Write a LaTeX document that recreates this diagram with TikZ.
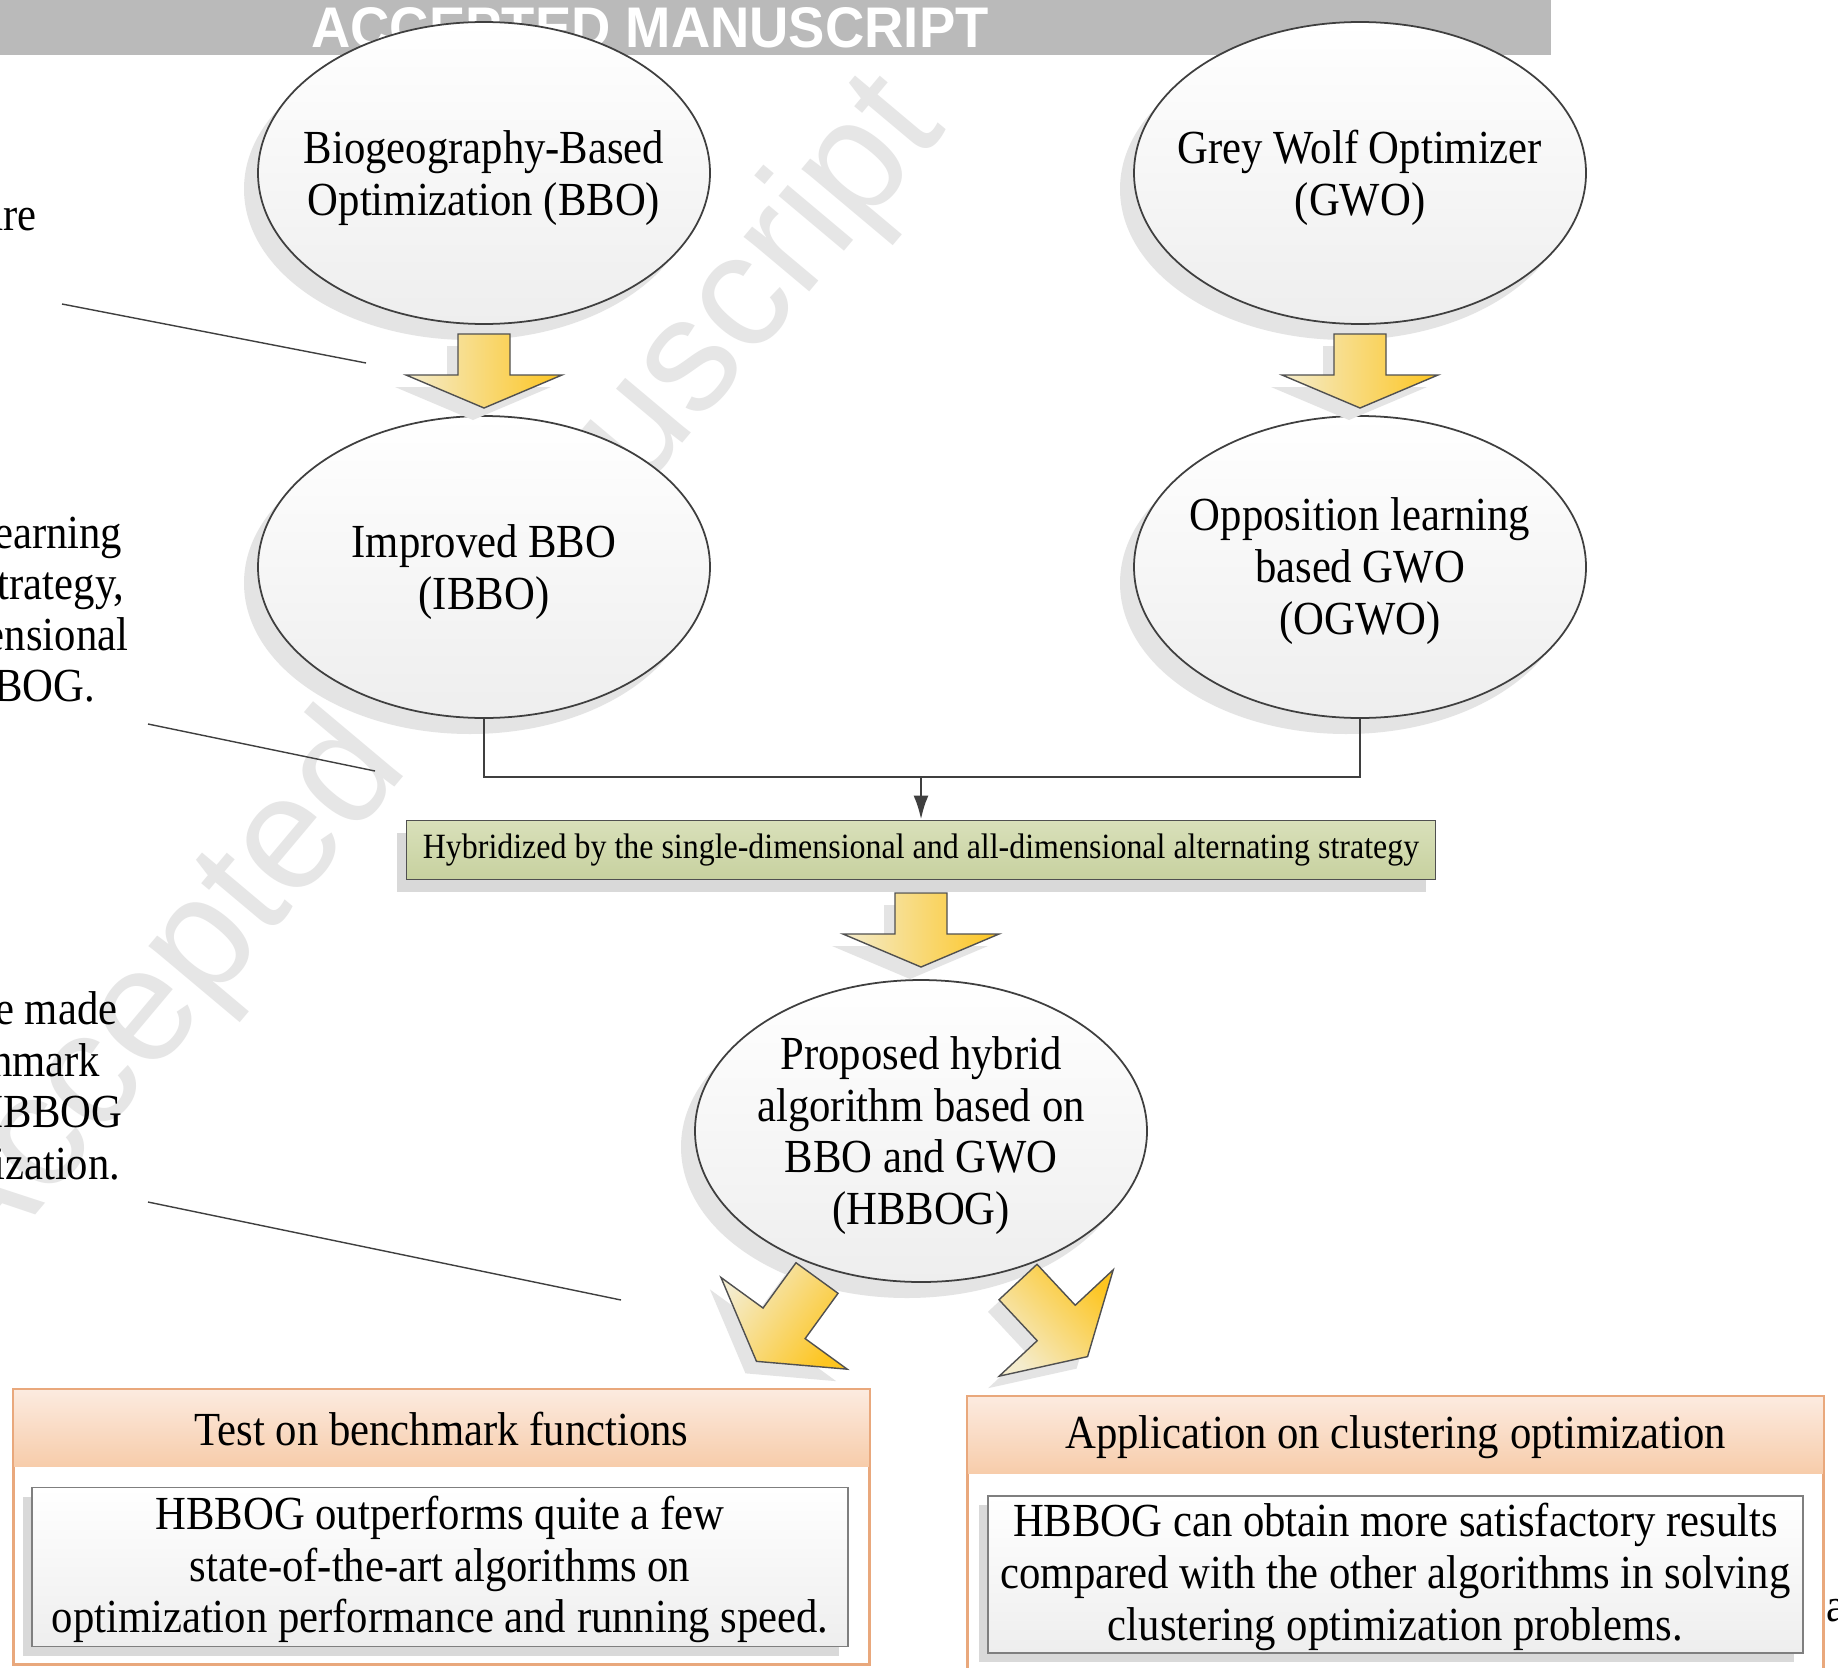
\documentclass[tikz,border=0pt]{standalone}
\usepackage{fontspec}
\setmainfont{Liberation Serif}[FakeStretch=0.9]
\newfontfamily\markfont{Liberation Sans}
\newfontfamily\bannerfont{Liberation Sans}[FakeStretch=0.95]
\usetikzlibrary{shapes.geometric,shadows,arrows.meta}

\definecolor{bannergray}{HTML}{BABABA}
\definecolor{markgray}{HTML}{E6E6E6}
\definecolor{shadowgray}{HTML}{E4E4E4}
\definecolor{edgegray}{HTML}{505050}
\definecolor{ovaledge}{HTML}{3F3F3F}
\definecolor{ovalbot}{HTML}{EEEEEE}
\definecolor{creamy}{HTML}{F4ECCD}
\definecolor{golden}{HTML}{FDC520}
\definecolor{olivetop}{HTML}{D9E0BA}
\definecolor{olivebot}{HTML}{C7D19F}
\definecolor{peachtop}{HTML}{FCEBE0}
\definecolor{peachbot}{HTML}{F7CCAA}
\definecolor{peachedge}{HTML}{E9A87C}
\definecolor{boxedge}{HTML}{7F7F7F}

\newcommand\arrowpath[2]{(-26,0) -- (-26,#1) -- (-78,#1) -- (0,#1+#2) -- (78,#1) -- (26,#1) -- (26,0) -- cycle}

\tikzset{
  oval/.style={ellipse, draw=ovaledge, line width=0.5pt, top color=white, bottom color=ovalbot,
    minimum width=45.2mm, minimum height=30.2mm, inner sep=0pt,
    general shadow={fill=shadowgray, shadow xshift=-1.4mm, shadow yshift=-1.6mm}},
  ovaltext/.style={align=center, inner sep=0pt, font=\fontsize{13.5}{14.7}\selectfont},
  stratbox/.style={rectangle, draw=edgegray, line width=0.5pt, top color=olivetop, bottom color=olivebot,
    minimum width=102.9mm, minimum height=5.9mm, inner sep=0pt, font=\fontsize{10.1}{12}\selectfont,
    general shadow={fill=black!15, shadow xshift=-1mm, shadow yshift=-1.2mm}},
  panel/.style={rectangle, draw=peachedge, line width=0.6pt, minimum width=85.5mm, inner sep=0pt},
  paneltitle/.style={font=\fontsize{13.5}{14.7}\selectfont, inner sep=0pt},
  resultbox/.style={rectangle, draw=boxedge, line width=0.5pt, top color=white, bottom color=ovalbot,
    minimum width=81.6mm, minimum height=15.9mm, inner sep=0pt,
    general shadow={fill=black!15, shadow xshift=-0.9mm, shadow yshift=-0.9mm}},
  conn/.style={draw=ovaledge, line width=0.8pt},
  arrowedge/.style={draw=edgegray, line width=0.4pt, line join=miter},
  callout/.style={draw=ovaledge, line width=0.4pt},
  fragment/.style={font=\fontsize{13.5}{14.7}\selectfont, inner sep=0pt, text height=9.5pt, text depth=3.5pt},
  watermark/.style={text=markgray, font=\markfont\fontsize{46}{46}\selectfont, inner sep=0pt},
  bannertext/.style={text=white, font=\bannerfont\bfseries\fontsize{16.3}{16.3}\selectfont, inner sep=0pt}
}

\begin{document}
\begin{tikzpicture}[x=0.1mm, y=-0.1mm]
  \clip (0,0) rectangle (1838,1667);
  \fill[white] (0,0) rectangle (1838,1667);

  % banner and watermark
  \fill[bannergray] (0,0) rectangle (1551,55);
  \node[bannertext, anchor=base] (banner) at (650,48) {ACCEPTED MANUSCRIPT};
  \node[watermark, rotate=50] (mark) at (430,680) {Accepted Manuscript};

  % cut text on the left
  \foreach \txt/\xr/\yy in {are/37/220, earning/123/538, {trategy,}/125/589, ensional/129/640,
      BOG./96/691, e made/118/1014, nmark/101/1066, IBBOG/123/1117, ization./121/1169}
    \node[fragment, anchor=east] (frag\yy) at (\xr,\yy) {\txt};
  \node[fragment, anchor=west] (fragag) at (1826,1611) {ag};

  \coordinate (c1a) at (62,304);   \coordinate (c1b) at (366,363);
  \coordinate (c2a) at (148,724);  \coordinate (c2b) at (375,771);
  \coordinate (c3a) at (148,1202); \coordinate (c3b) at (621,1300);
  \draw[callout] (c1a) -- (c1b);
  \draw[callout] (c2a) -- (c2b);
  \draw[callout] (c3a) -- (c3b);

  % ovals
  \node[oval] (bbo)   at (484,173)  {};
  \node[oval] (gwo)   at (1360,173) {};
  \node[oval] (ibbo)  at (484,567)  {};
  \node[oval] (ogwo)  at (1360,567) {};
  \node[oval] (hbbog) at (921,1131) {};
  \node[ovaltext] (bbotext)   at ([yshift=-0.5mm]bbo.center)   {Biogeography-Based\\Optimization (BBO)};
  \node[ovaltext] (gwotext)   at ([yshift=-0.5mm]gwo.center)   {Grey Wolf Optimizer\\(GWO)};
  \node[ovaltext] (ibbotext)  at ([yshift=-0.5mm]ibbo.center)  {Improved BBO\\(IBBO)};
  \node[ovaltext] (ogwotext)  at ([yshift=-0.4mm]ogwo.center)  {Opposition learning\\based GWO\\(OGWO)};
  \node[ovaltext] (hbbogtext) at ([yshift=-0.45mm]hbbog.center) {Proposed hybrid\\algorithm based on\\BBO and GWO\\(HBBOG)};

  % hybridization step
  \node[stratbox] (strat) at (921,850) {Hybridized by the single-dimensional and all-dimensional alternating strategy};
  \coordinate (join) at (921,777);
  \draw[conn] (ibbo.south) |- (join) -| (ogwo.south);
  \draw[conn, -{Latex[length=2.4mm,width=1.5mm]}] (join) -- (strat.north);

  % block arrows
  \foreach \ax/\ay/\rot/\shaft/\head [evaluate=\rot as \sang using 90+\rot] in
      {484/334/0/41/33, 1360/334/0/41/33, 921/893/0/41/33, 817/1278/-36/56/47, 1018/1282/43/56/46} {
    \begin{scope}[shift={(\ax-11,\ay+12)}, rotate=\rot]
      \fill[shadowgray] \arrowpath{\shaft}{\head};
    \end{scope}
    \begin{scope}[shift={(\ax,\ay)}, rotate=\rot]
      \shadedraw[arrowedge, left color=creamy, right color=golden, shading angle=\sang] \arrowpath{\shaft}{\head};
    \end{scope}
  }

  % result panels
  \node[panel, fill=white, minimum height=27.4mm] (testpanel) at (441.5,1527) {};
  \shade[top color=peachtop, bottom color=peachbot] (testpanel.north west) rectangle ([yshift=-7.8mm]testpanel.north east);
  \draw[peachedge, line width=0.6pt] (testpanel.north west) rectangle (testpanel.south east);
  \node[paneltitle] (testtitle) at (441.5,1429) {Test on benchmark functions};
  \node[resultbox] (testresult) at (440,1567) {};
  \node[ovaltext] (testtext) at ([yshift=-0.25mm]testresult.center) {HBBOG outperforms quite a few\\state-of-the-art algorithms on\\optimization performance and running speed.};

  \node[panel, fill=white, minimum height=29mm] (clusterpanel) at (1395.5,1542) {};
  \shade[top color=peachtop, bottom color=peachbot] (clusterpanel.north west) rectangle ([yshift=-7.8mm]clusterpanel.north east);
  \draw[peachedge, line width=0.6pt] (clusterpanel.north west) rectangle (clusterpanel.south east);
  \node[paneltitle] (clustertitle) at (1395.5,1437) {Application on clustering optimization};
  \node[resultbox, minimum width=81.5mm, minimum height=15.7mm] (clusterresult) at (1395.5,1574.5) {};
  \node[ovaltext] (clustertext) at ([yshift=-0.25mm]clusterresult.center) {HBBOG can obtain more satisfactory results\\compared with the other algorithms in solving\\clustering optimization problems.};
\end{tikzpicture}
\end{document}
